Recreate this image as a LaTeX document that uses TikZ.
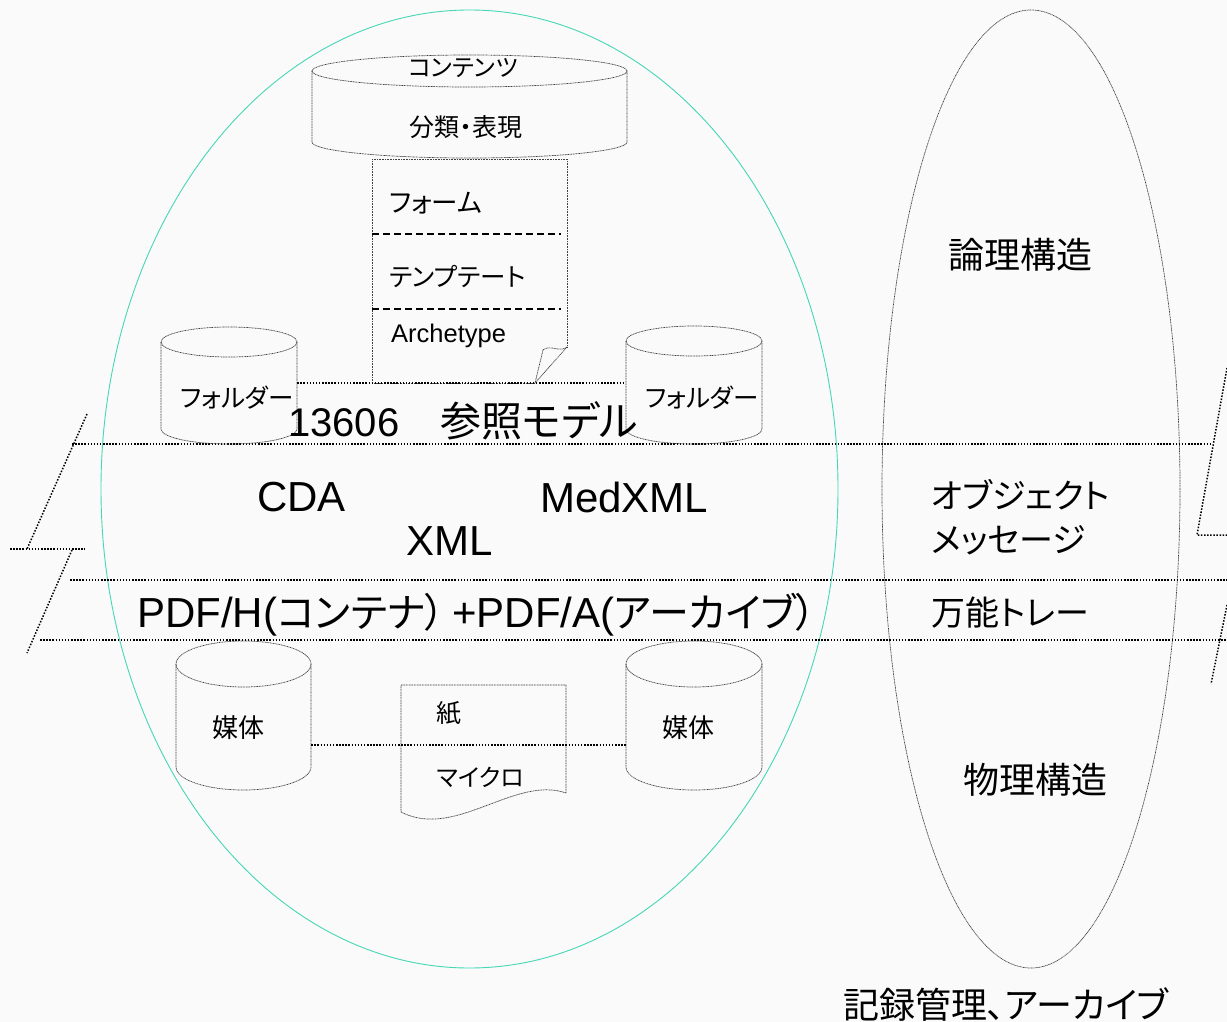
\documentclass[tikz,border=0pt]{standalone}
\usepackage{fontspec}
\setmainfont{Liberation Sans}
\newfontfamily\jp[RawFeature=+palt]{Noto Sans CJK JP}
\newcommand\fsz[1]{\fontsize{#1}{#1}\selectfont}
\definecolor{ovalgreen}{RGB}{70,215,180}
\definecolor{bgc}{RGB}{250,250,250}
\newcommand\cylshape[6]{%
  \node[inner sep=0pt, minimum width={2*#5*1pt}, minimum height={(#4-#3)*1pt}] (#1) at (#2,{(#3+#4)/2}) {};
  \draw[thindot] (#2,#3) ellipse[x radius=#5pt, y radius=#6pt];
  \draw[thindot] (#2-#5,#3) -- (#2-#5,#4) arc[start angle=180, end angle=360, x radius=#5pt, y radius=#6pt] -- (#2+#5,#3);
}
\begin{document}
\begin{tikzpicture}[x=1pt,y=-1pt,
  thindot/.style={draw=black!75, line width=0.7pt, dash pattern=on 1pt off 0.6pt},
  bar/.style={draw=black, line width=1.5pt, dash pattern=on 1.5pt off 1.6pt},
  sepline/.style={draw=black, line width=1.4pt, dash pattern=on 7pt off 4pt},
  lbl/.style={inner sep=0pt, anchor=west},
  clbl/.style={inner sep=0pt}]
\useasboundingbox (0,0) rectangle (1227,1022);
\fill[bgc] (0,0) rectangle (1227,1022);

% big ovals
\draw[ovalgreen, line width=0.9pt] (469.5,489) ellipse[x radius=368.5pt, y radius=479pt];
\draw[thindot] (1031,489) ellipse[x radius=149pt, y radius=479pt];

% horizontal layer lines
\draw[bar] (72,444) -- (1212,444);
\draw[bar] (70,580) -- (1227,580);
\draw[bar] (40,640) -- (1227,640);
% break marks left
\draw[bar] (87,414) -- (27,549);
\draw[bar] (10,549) -- (85,549);
\draw[bar] (72,550) -- (27,653);
% break marks right
\draw[bar] (1227,368) -- (1197,535) -- (1227,535);
\draw[bar] (1227,605) -- (1211,684);

% top cylinder
\cylshape{contents}{469.5}{71}{142}{157.5}{16}
% folders
\cylshape{fL}{229}{342}{429}{68}{15}
\cylshape{fR}{694}{341}{429}{68}{15}
% media
\cylshape{mL}{243.5}{664}{767}{67.5}{23}
\cylshape{mR}{694}{664}{767}{68}{23}

% top document (form / template / archetype)
\draw[thindot] (535,383) -- (372,383) -- (372,159) -- (567,159) -- (567,347);
\draw[thindot] (567,347) .. controls (560,353) and (550,344) .. (543,350);
\draw[thindot] (543,350) -- (535,383);
\draw[thindot] (567,347) -- (535,383);
\draw[sepline] (372,234) -- (561,234);
\draw[sepline] (372,309) -- (561,309);

% lower document (paper / micro)
\draw[thindot] (566,793) -- (566,685) -- (401,685) -- (401,812)
  .. controls (455,840) and (515,775) .. (566,793);

% connectors
\draw[bar] (fL.east |- 0,383) -- (fR.west |- 0,383);
\draw[bar] (mL.east |- 0,745) -- (mR.west |- 0,745);

% texts
\node[clbl, font=\fsz{24}\jp] (cont) at (463,68) {コンテンツ};
\node[clbl, font=\fsz{25}\jp] (bunrui) at (466,127) {分類・表現};
\node[lbl, font=\fsz{26.5}\jp] (form) at (389,203) {フォーム};
\node[lbl, font=\fsz{25.5}\jp] (tmpl) at (389,277) {テンプテート};
\node[lbl, font=\fsz{25.5}] (arch) at (391,336) {Archetype};
\node[lbl, font=\fsz{25.5}\jp] (fldLt) at (180,398) {フォルダー};
\node[lbl, font=\fsz{25.5}\jp] (fldRt) at (645,398) {フォルダー};
\node[lbl, font=\fsz{40}] (ref) at (288,421) {13606{\fsz{41}\jp　参照モデル}};
\node[lbl, font=\fsz{42}] (cda) at (257,497) {CDA};
\node[lbl, font=\fsz{42}] (medxml) at (540,497) {MedXML};
\node[lbl, font=\fsz{42}] (xml) at (406,541) {XML};
\node[lbl, font=\fsz{42}] (pdf) at (137,615) {PDF/H({\fsz{40}\jp コンテナ）}\hspace{7pt}+PDF/A({\fsz{40}\jp アーカイブ）}};
\node[clbl, font=\fsz{26}\jp] (baiL) at (238,728) {媒体};
\node[clbl, font=\fsz{26}\jp] (baiR) at (688,728) {媒体};
\node[clbl, font=\fsz{25}\jp] (kami) at (449,713) {紙};
\node[lbl, font=\fsz{24}\jp] (micro) at (437,777) {マイクロ};
\node[clbl, font=\fsz{36}\jp] (ronri) at (1020,255) {論理構造};
\node[lbl, font=\fsz{34}\jp] (obj) at (931,495) {オブジェクト};
\node[lbl, font=\fsz{34}\jp] (msg) at (931,540) {メッセージ};
\node[lbl, font=\fsz{34}\jp] (bannou) at (931,613) {万能トレー};
\node[clbl, font=\fsz{36}\jp] (butsuri) at (1035,780) {物理構造};
\node[lbl, font=\fsz{36}\jp] (kiroku) at (843,1005) {記録管理、アーカイブ};
\end{tikzpicture}
\end{document}
